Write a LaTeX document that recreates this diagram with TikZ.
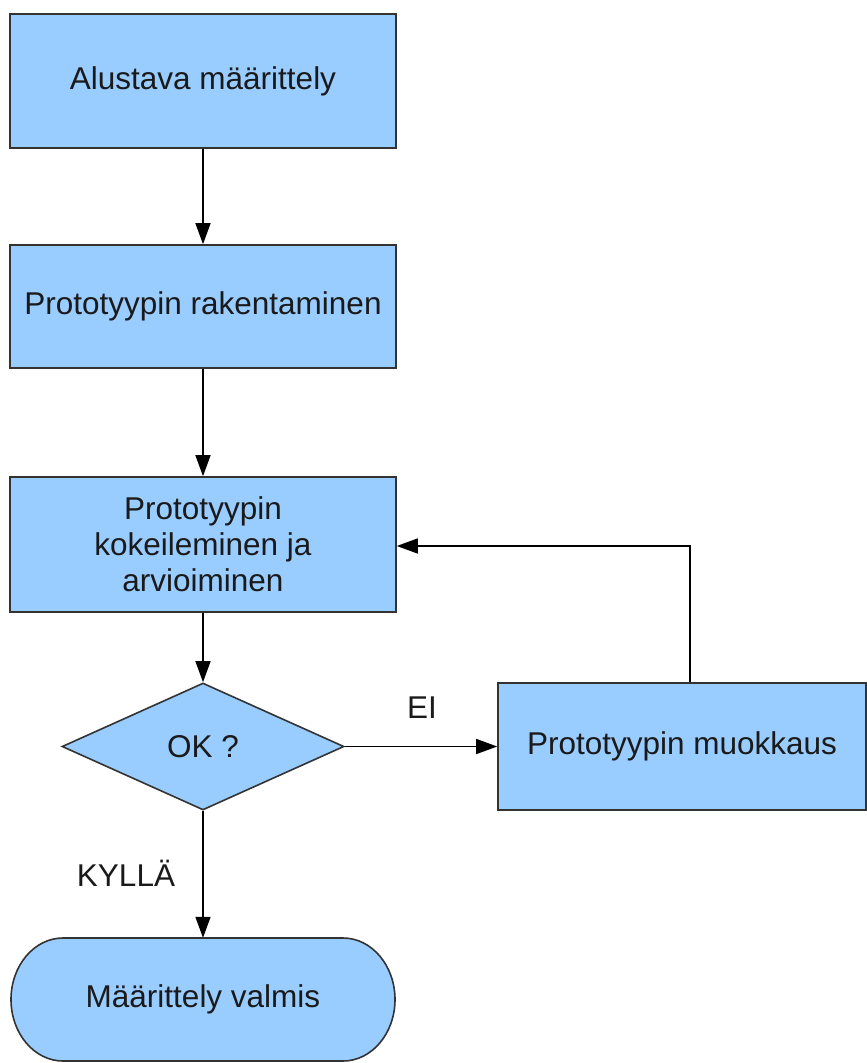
\documentclass[tikz,border=0pt]{standalone}
\usepackage{fontspec}
\setmainfont{Liberation Sans}
\usetikzlibrary{arrows.meta,shapes.geometric}
\definecolor{boxfill}{HTML}{99CCFF}
\definecolor{boxline}{HTML}{333333}
\definecolor{ink}{HTML}{1A1A1A}
\begin{document}
\begin{tikzpicture}[x=1pt,y=-1pt,
  every node/.style={font=\fontsize{31.5}{36}\selectfont, text=ink},
  stepbox/.style={rectangle, draw=boxline, fill=boxfill, line width=1.6pt,
    inner sep=0pt, align=center},
  decision/.style={diamond, draw=boxline, fill=boxfill, line width=1.6pt,
    inner sep=0pt, aspect=2.2},
  flow/.style={draw=black, line width=1.5pt, -{Triangle[length=21pt,width=15pt]}},
  lbl/.style={inner sep=0pt}]
  \useasboundingbox (0,0) rectangle (867,1063);

  \node[stepbox, minimum width=386, minimum height=134] (define) at (203,81) {Alustava määrittely};
  \node[stepbox, minimum width=386, minimum height=123] (build) at (203,306.5) {Prototyypin rakentaminen};
  \node[stepbox, minimum width=386, minimum height=135] (test) at (203,544.5)
    {Prototyypin\\kokeileminen ja\\arvioiminen};
  \node[decision, minimum width=282, minimum height=127] (ok) at (203,746.5) {OK ?};
  \node[stepbox, minimum width=368, minimum height=127] (modify) at (682,746.5) {Prototyypin muokkaus};

  % terminal with elliptical ends
  \node[inner sep=0pt, minimum width=384, minimum height=123] (done) at (203,999.5) {};
  \path[draw=boxline, fill=boxfill, line width=1.6pt]
    (63,938) -- (343,938) arc[start angle=90, end angle=-90, x radius=52, y radius=-61.5]
    -- (63,1061) arc[start angle=270, end angle=90, x radius=52, y radius=-61.5] -- cycle;
  \node at (done.center) {Määrittely valmis};

  \coordinate (loop) at (690,546);

  \draw[flow] (define) -- (build);
  \draw[flow] (build) -- (test);
  \draw[flow] (test) -- (ok);
  \draw[flow] (ok.east) -- (modify.west);
  \draw[flow] (modify.north -| loop) -- (loop) -- (test.east |- loop);
  \draw[flow] (ok.south) -- (done.north);

  \node[lbl] (no) at (422,708) {EI};
  \node[lbl] (yes) at (126,873) {KYLLÄ};
\end{tikzpicture}
\end{document}
